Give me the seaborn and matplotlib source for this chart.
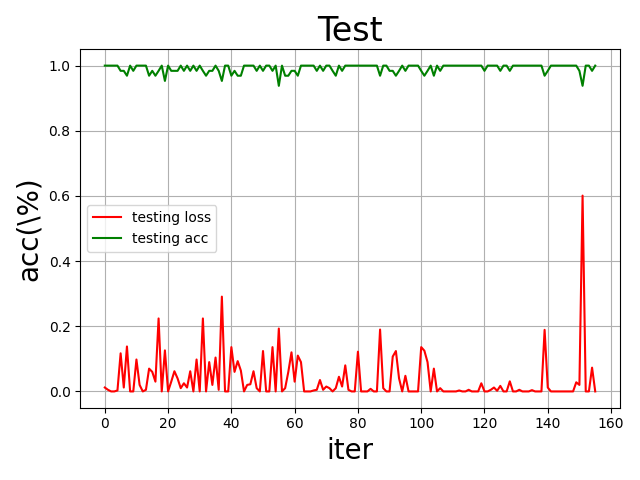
import matplotlib
matplotlib.use("Agg")
import matplotlib.pyplot as plt
import seaborn as sns
import pandas as pd

# iteration index
iters = list(range(156))

testing_loss = [
    0.012, 0.005, 0.0, 0.0, 0.003, 0.117, 0.012, 0.138, 0.0, 0.0,
    0.098, 0.02, 0.0, 0.005, 0.07, 0.06, 0.03, 0.224, 0.0, 0.126,
    0.0, 0.03, 0.062, 0.04, 0.01, 0.025, 0.012, 0.062, 0.0, 0.098,
    0.0, 0.224, 0.0, 0.09, 0.02, 0.104, 0.005, 0.291, 0.0, 0.0,
    0.136, 0.06, 0.093, 0.064, 0.0, 0.02, 0.022, 0.062, 0.01, 0.0,
    0.124, 0.0, 0.0, 0.136, 0.0, 0.193, 0.0, 0.01, 0.06, 0.12,
    0.03, 0.11, 0.09, 0.0, 0.0, 0.0, 0.003, 0.005, 0.035, 0.005,
    0.015, 0.01, 0.0, 0.01, 0.045, 0.015, 0.08, 0.005, 0.0, 0.0,
    0.122, 0.0, 0.0, 0.0, 0.008, 0.0, 0.0, 0.19, 0.01, 0.0,
    0.0, 0.107, 0.124, 0.04, 0.0, 0.048, 0.0, 0.0, 0.0, 0.0,
    0.136, 0.125, 0.09, 0.0, 0.07, 0.0, 0.01, 0.0, 0.0, 0.0,
    0.0, 0.0, 0.003, 0.0, 0.0, 0.005, 0.0, 0.0, 0.0, 0.025,
    0.0, 0.0, 0.005, 0.012, 0.002, 0.017, 0.0, 0.0, 0.031, 0.0,
    0.0, 0.005, 0.0, 0.0, 0.0, 0.004, 0.0, 0.0, 0.0, 0.189,
    0.012, 0.0, 0.0, 0.0, 0.0, 0.0, 0.0, 0.0, 0.0, 0.028,
    0.02, 0.601, 0.0, 0.0, 0.073, 0.0,
]

a, b, c, d, e = 1.0, 0.984, 0.969, 0.953, 0.938
testing_acc = [
    a, a, a, a, a, b, b, c, a, b,
    a, a, a, a, c, b, c, b, a, d,
    a, b, b, b, a, b, a, b, a, b,
    a, b, c, b, b, a, b, d, a, a,
    c, b, c, c, a, a, a, a, b, a,
    b, a, a, b, a, e, a, c, c, b,
    b, c, a, a, a, a, a, b, a, b,
    a, a, b, c, a, b, a, a, a, a,
    a, a, a, a, a, a, a, c, a, a,
    b, b, c, b, a, b, a, a, a, a,
    b, c, b, a, c, a, b, a, a, a,
    a, a, a, a, a, a, a, a, a, a,
    b, a, a, a, a, b, a, a, b, a,
    a, a, a, a, a, a, a, a, a, c,
    b, a, a, a, a, a, a, a, a, a,
    b, e, a, a, b, a,
]

df = pd.DataFrame({"iter": iters, "loss": testing_loss, "acc": testing_acc})

fig, ax = plt.subplots(figsize=(6.4, 4.8), dpi=100)
sns.lineplot(data=df, x="iter", y="loss", color="r", label="testing loss", ax=ax, linewidth=1.5)
sns.lineplot(data=df, x="iter", y="acc", color="g", label="testing acc", ax=ax, linewidth=1.5)

ax.grid(True)
ax.set_title("Test", fontsize=24)
ax.set_xlabel("iter", fontsize=20)
ax.set_ylabel("acc(\\%)", fontsize=20)
ax.legend(loc="center left")
fig.tight_layout()
fig.savefig("out.png", dpi=100)
